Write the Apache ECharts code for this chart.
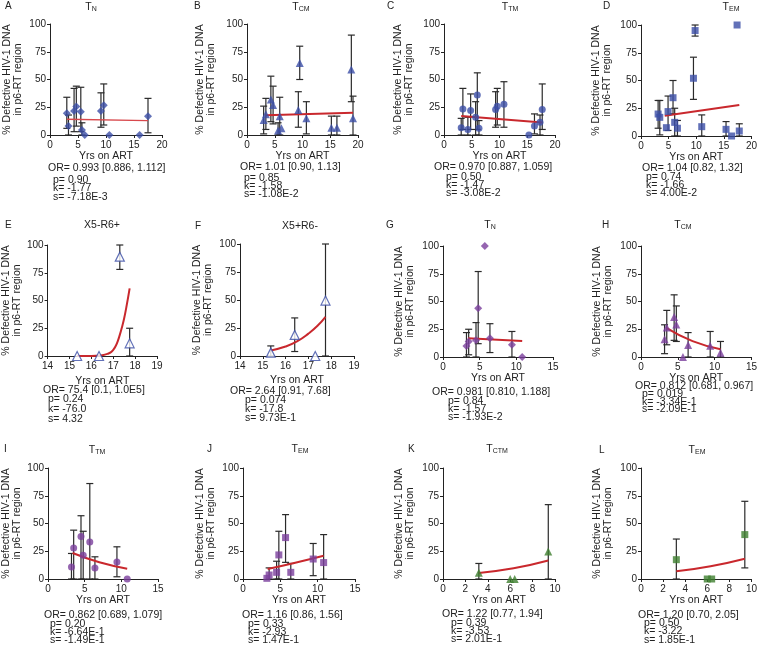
<!DOCTYPE html>
<html><head><meta charset="utf-8">
<script src="https://cdn.jsdelivr.net/npm/echarts@6/dist/echarts.min.js"></script>
<style>html,body{margin:0;padding:0;background:#fff}#c{width:760px;height:649px}</style>
</head><body><div id="c"></div>
<script>
// ---- data: [x, y] points, [x, low, high] error bars, [x, y] fitted curve ----
const ptsA = [[3.0,19.6],[3.3,8.1],[4.3,21.7],[4.7,25.6],[5.5,21],[5.7,4.5],[6.2,0],[9.1,21.7],[9.6,26.8],[10.6,0],[16.0,0],[17.5,17]];
const errA = [[3.0,6,34],[3.3,0,18],[4.3,3,42],[4.7,8,44],[5.5,3,43],[5.7,0,11],[9.1,7,38],[9.6,9,46],[17.5,2,33]];
const fitA = [[3.0,14.2],[17.5,13.0]];

const ptsB = [[3.0,13.6],[3.4,18.7],[4.3,32],[4.7,27],[5.6,4],[5.9,17],[6.2,6],[9.25,22.6],[9.5,64.8],[10.7,15],[15.2,6.6],[16.2,6.6],[18.8,59],[19.1,15]];
const errB = [[3.0,1,26],[3.4,5,33],[4.3,12,53],[4.7,10,44],[5.6,0,11],[5.9,0,34],[9.25,7,39],[9.5,50,80],[10.7,1,30],[15.2,0,17],[16.2,0,17],[18.8,30,90],[19.1,0,35]];
const fitB = [[3.4,17.8],[19.1,20.0]];

const ptsC = [[3.1,6.6],[3.4,23.5],[4.3,5],[4.8,22],[5.7,16],[6.0,36],[6.3,6],[9.3,23],[9.6,26],[10.8,27.7],[15.3,0],[16.3,8],[17.3,11.4],[17.7,23]];
const errC = [[3.1,0,15],[3.4,5,42],[4.3,0,16],[4.8,5,37],[5.7,0,30],[6.0,5,56],[6.3,0,13],[9.3,7,39],[9.6,9,42],[10.8,7,48],[16.3,1,19],[17.3,0,18],[17.7,5,46]];
const fitC = [[3.1,17.2],[17.7,11.2]];

const ptsD = [[3.1,19.8],[3.4,16.8],[4.6,7.5],[4.9,22],[5.8,34.5],[6.1,12.3],[6.6,7],[9.5,52],[9.8,95],[11.0,8.4],[15.4,6],[16.4,0],[17.4,100],[17.8,4.5]];
const errD = [[3.1,7,32],[3.4,1,32],[4.9,5,36],[5.8,20,50],[6.1,0,25],[6.6,0,14],[9.5,33,71],[9.8,90,100],[11.0,0,19],[15.4,0,13],[17.8,0,11]];
const fitD = [[4.3,18.3],[17.8,27.9]];

const ptsE = [[15.35,0],[16.35,0],[17.3,89.5],[17.75,11.4]];
const errE = [[17.3,78,100],[17.75,0,25]];
const fitE = [[15.35,0],[16.0,0.1],[16.25,0.3],[16.5,0.7],[16.75,2],[16.9,3.5],[17.0,5.5],[17.1,8.5],[17.2,13],[17.3,19],[17.4,26],[17.5,34],[17.6,44],[17.75,61]];

const ptsF = [[15.35,3],[16.4,18.8],[17.3,0],[17.75,49.5]];
const errF = [[15.35,0,9],[16.4,4,34],[17.75,0,100]];
const fitF = [[15.35,5],[16.0,8.5],[16.5,13],[17.0,20],[17.4,27],[17.75,35]];

const ptsG = [[3.2,10],[3.5,14],[4.5,15],[4.8,44],[5.7,100],[6.4,17],[9.4,11],[10.8,0]];
const errG = [[3.2,0,22],[3.5,2,25],[4.5,0,31],[4.8,12,77],[6.4,4,30],[9.4,0,23]];
const fitG = [[3.4,16.8],[10.8,14.4]];

const ptsH = [[3.2,16],[3.5,26.6],[4.5,36],[4.8,29.3],[5.7,0],[6.4,10.8],[9.4,10.2],[10.8,3.9]];
const errH = [[3.2,3,29],[3.5,11,42],[4.5,15,56],[4.8,14,46],[6.4,0,22],[9.4,0,23],[10.8,0,14]];
const fitH = [[3.5,26],[7,14.3],[10.8,7]];

const ptsI = [[3.2,10.8],[3.5,27.9],[4.5,38.4],[4.8,21.3],[5.7,33.3],[6.4,9.9],[9.4,15.3],[10.8,0]];
const errI = [[3.2,0,23],[3.5,0,44],[4.5,0,57],[4.8,0,43],[5.7,0,86],[6.4,0,20],[9.4,2,29]];
const fitI = [[3.35,23.4],[7,15.1],[10.8,9.3]];

const ptsJ = [[3.2,0.6],[3.5,3.6],[4.5,6],[4.8,21.7],[5.7,37.3],[6.4,6],[9.4,18],[10.8,14.8]];
const errJ = [[3.5,0,10],[4.5,0,16],[4.8,0,43],[5.7,15,58],[6.4,0,14],[9.4,3,32],[10.8,0,40]];
const fitJ = [[3.3,9],[7,14.7],[10.8,21]];

const ptsK = [[3.2,5.7],[6.0,0],[6.4,0],[9.4,24.7]];
const errK = [[3.2,0,14],[9.4,0,67]];
const fitK = [[3.2,5.4],[6.3,9.6],[9.4,16.6]];

const ptsL = [[3.2,17.4],[6.0,0],[6.4,0],[9.4,40]];
const errL = [[3.2,0,36],[9.4,10,70]];
const fitL = [[3.2,6.9],[6.3,11.5],[9.4,18.3]];

const statsA = ['OR= 0.993 [0.886, 1.112]','p= 0.90','k= -1.77','s= -7.18E-3'];
const statsB = ['OR= 1.01 [0.90, 1.13]','p= 0.85','k= -1.58','s= -1.08E-2'];
const statsC = ['OR= 0.970 [0.887, 1.059]','p= 0.50','k= -1.47','s= -3.08E-2'];
const statsD = ['OR= 1.04 [0.82, 1.32]','p= 0.74','k= -1.66','s= 4.00E-2'];
const statsE = ['OR= 75.4 [0.1, 1.0E5]','p= 0.24','k= -76.0','s= 4.32'];
const statsF = ['OR= 2.64 [0.91, 7.68]','p= 0.074','k= -17.8','s= 9.73E-1'];
const statsG = ['OR= 0.981 [0.810, 1.188]','p= 0.84','k= -1.57','s= -1.93E-2'];
const statsH = ['OR= 0.812 [0.681, 0.967]','p= 0.019','k= -3.34E-1','s= -2.09E-1'];
const statsI = ['OR= 0.862 [0.689, 1.079]','p= 0.20','k= -6.64E-1','s= -1.49E-1'];
const statsJ = ['OR= 1.16 [0.86, 1.56]','p= 0.33','k= -2.93','s= 1.47E-1'];
const statsK = ['OR= 1.22 [0.77, 1.94]','p= 0.39','k= -3.53','s= 2.01E-1'];
const statsL = ['OR= 1.20 [0.70, 2.05]','p= 0.50','k= -3.22','s= 1.85E-1'];

const yTicks = [0, 25, 50, 75, 100];
const yName = '% Defective HIV-1 DNA\nin p6-RT region';
const xName = 'Yrs on ART';

// ---- layout / style ----
const F = 'Liberation Sans, Arial, Helvetica, sans-serif';
const INK = '#222';
const BLUE = '#3b4ea6', PURPLE = '#7b3f9c', GREEN = '#3f8030', RED = '#c9282d';

const panels = [
 {L:'A', lp:[5,6],   tt:['T','N'],   tp:[91,7],   g:[50,24,112,111],  x:[0,20,5], yg:26, xg:15, pts:ptsA, err:errA, fit:fitA, sym:'diamond', c:BLUE, st:statsA, so:[48,168], sp:[53,180], sl:8.5, lw:1.3, lc:'#d8484c'},
 {L:'B', lp:[194,6], tt:['T','CM'],  tp:[301,7],  g:[247,24,111,111], x:[0,20,5], yg:30, xg:15, pts:ptsB, err:errB, fit:fitB, sym:'triangle', c:BLUE, st:statsB, so:[240,167], sp:[244,178], sl:8.3},
 {L:'C', lp:[387,6], tt:['T','TM'],  tp:[510,7],  g:[444,24,111,111], x:[0,20,5], yg:29, xg:15, pts:ptsC, err:errC, fit:fitC, sym:'circle', c:BLUE, st:statsC, so:[434,167], sp:[446,177], sl:8.3},
 {L:'D', lp:[603,6], tt:['T','EM'],  tp:[731,7],  g:[641,25,111,111], x:[0,20,5], yg:28, xg:15, pts:ptsD, err:errD, fit:fitD, sym:'rect', c:BLUE, st:statsD, so:[642,168], sp:[646,177], sl:8.3},
 {L:'E', lp:[5,225], tt:['X5-R6+'],  tp:[102,225],g:[46,245,111,111], x:[14,19,1], yg:24, xg:20, pts:ptsE, err:errE, fit:fitE, sym:'triangle', c:BLUE, open:true, st:statsE, so:[43,390], sp:[48,399.5], sl:10},
 {L:'F', lp:[195,226],tt:['X5+R6-'], tp:[300,226],g:[240,244,114,112],x:[14,19,1], yg:26, xg:19, pts:ptsF, err:errF, fit:fitF, sym:'triangle', c:BLUE, open:true, st:statsF, so:[230,391.5], sp:[245,400], sl:9.2},
 {L:'G', lp:[386,225],tt:['T','N'],  tp:[490,225],g:[443,246,110,111],x:[0,15,5], yg:27, xg:16, pts:ptsG, err:errG, fit:fitG, sym:'diamond', c:PURPLE, st:statsG, so:[432,392.5], sp:[448,401], sl:8},
 {L:'H', lp:[602,225],tt:['T','CM'], tp:[683,225],g:[641,246,111,111],x:[0,15,5], yg:27.5, xg:16, pts:ptsH, err:errH, fit:fitH, sym:'triangle', c:PURPLE, st:statsH, so:[635,386], sp:[642,394.3], sl:7.6},
 {L:'I', lp:[4,449],  tt:['T','TM'], tp:[97,450], g:[46,468,112,111], x:[0,15,5], yg:25, xg:16, pts:ptsI, err:errI, fit:fitI, sym:'circle', c:PURPLE, st:statsI, so:[44,615], sp:[50,624], sl:8.3},
 {L:'J', lp:[207,449],tt:['T','EM'], tp:[300,449],g:[243,468,112,111],x:[0,15,5], yg:26, xg:16, pts:ptsJ, err:errJ, fit:fitJ, sym:'rect', c:PURPLE, st:statsJ, so:[242,615], sp:[248,624], sl:8.3},
 {L:'K', lp:[408,449],tt:['T','CTM'],tp:[497,449],g:[443,468,112,111],x:[0,10,2], yg:27.5, xg:16, pts:ptsK, err:errK, fit:fitK, sym:'triangle', c:GREEN, st:statsK, so:[442,614.3], sp:[451,622.7], sl:8.3},
 {L:'L', lp:[599,450],tt:['T','EM'], tp:[697,450],g:[641,468,112,111],x:[0,10,2], yg:27, xg:16, pts:ptsL, err:errL, fit:fitL, sym:'rect', c:GREEN, st:statsL, so:[638,615], sp:[644,623.3], sl:8.3}
];

function renderErr(params, api) {
  const x = api.value(0), lo = api.value(1), hi = api.value(2);
  const a = api.coord([x, lo]), b = api.coord([x, hi]);
  const w = 3.5, st = {stroke: '#2a2a2a', lineWidth: 1.2};
  return {type: 'group', children: [
    {type: 'line', shape: {x1: a[0], y1: a[1], x2: b[0], y2: b[1]}, style: st},
    {type: 'line', shape: {x1: b[0]-w, y1: b[1], x2: b[0]+w, y2: b[1]}, style: st},
    {type: 'line', shape: {x1: a[0]-w, y1: a[1], x2: a[0]+w, y2: a[1]}, style: st}
  ]};
}

const grid = [], xAxis = [], yAxis = [], series = [], graphic = [];
panels.forEach((p, i) => {
  grid.push({left: p.g[0], top: p.g[1], width: p.g[2], height: p.g[3]});
  xAxis.push({gridIndex: i, type: 'value', min: p.x[0], max: p.x[1], interval: p.x[2],
    axisLine: {show: true, onZero: false, lineStyle: {color: INK, width: 1}},
    axisTick: {show: true, length: 3, lineStyle: {color: INK}},
    axisLabel: {fontSize: 10, color: INK, margin: 5, fontFamily: F},
    splitLine: {show: false},
    name: xName, nameLocation: 'middle', nameGap: p.xg,
    nameTextStyle: {fontSize: 10.5, color: INK, fontFamily: F}});
  yAxis.push({gridIndex: i, type: 'value', min: yTicks[0], max: yTicks[yTicks.length-1], interval: yTicks[1]-yTicks[0],
    axisLine: {show: true, onZero: false, lineStyle: {color: INK, width: 1}},
    axisTick: {show: true, length: 3, lineStyle: {color: INK}},
    axisLabel: {fontSize: 10, color: INK, margin: 4, fontFamily: F},
    splitLine: {show: false},
    name: yName, nameLocation: 'middle', nameGap: p.yg, nameRotate: 90,
    nameTextStyle: {fontSize: 10.5, lineHeight: 11, color: INK, fontFamily: F}});
  series.push({type: 'custom', xAxisIndex: i, yAxisIndex: i, data: p.err, renderItem: renderErr,
    encode: {x: 0, y: [1, 2]}, clip: false, z: 2, silent: true});
  series.push({type: 'line', xAxisIndex: i, yAxisIndex: i, data: p.fit, showSymbol: false, symbol: 'none',
    smooth: p.fit.length > 2 ? 0.5 : false,
    lineStyle: {color: p.lc || RED, width: p.lw || 2}, z: 3, silent: true});
  series.push({type: 'scatter', xAxisIndex: i, yAxisIndex: i, data: p.pts, symbol: p.sym,
    symbolSize: p.open ? 9 : (p.sym === 'triangle' ? 8 : (p.sym === 'diamond' ? 8 : 7)),
    itemStyle: p.open ? {color: '#fff', borderColor: p.c, borderWidth: 1.2} : {color: p.c},
    z: 4, silent: true});
  graphic.push({type: 'text', x: p.lp[0], y: p.lp[1], style: {text: p.L, font: '10px ' + F, fill: INK, textAlign: 'left', textVerticalAlign: 'middle'}});
  const ttxt = p.tt.length === 2 ? '{t|' + p.tt[0] + '}{s|' + p.tt[1] + '}' : '{t|' + p.tt[0] + '}';
  graphic.push({type: 'text', x: p.tp[0], y: p.tp[1], style: {text: ttxt, textAlign: 'center', textVerticalAlign: 'middle',
    rich: {t: {fontSize: 10.5, fontFamily: F, fill: INK, verticalAlign: 'bottom'}, s: {fontSize: 7, fontFamily: F, fill: INK, verticalAlign: 'bottom'}}}});
  graphic.push({type: 'text', x: p.so[0], y: p.so[1], style: {text: p.st[0], font: '10.5px ' + F, fill: INK, textAlign: 'left', textVerticalAlign: 'middle'}});
  for (let k = 1; k < p.st.length; k++) {
    graphic.push({type: 'text', x: p.sp[0], y: p.sp[1] + (k-1) * p.sl, style: {text: p.st[k], font: '10.5px ' + F, fill: INK, textAlign: 'left', textVerticalAlign: 'middle'}});
  }
});

const chart = echarts.init(document.getElementById('c'), null, {renderer: 'canvas'});
chart.setOption({animation: false, backgroundColor: '#fff', grid, xAxis, yAxis, series, graphic});
</script></body></html>
